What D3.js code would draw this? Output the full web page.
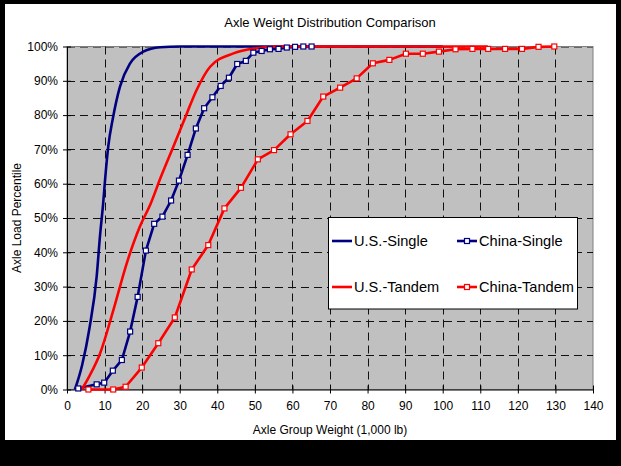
<!DOCTYPE html>
<html>
<head>
<meta charset="utf-8">
<script src="https://cdn.jsdelivr.net/npm/d3@7"></script>
<style>
  html, body { margin: 0; padding: 0; background: #000; }
  svg { display: block; font-family: "Liberation Sans", Arial, sans-serif; }
</style>
</head>
<body>
<svg id="chart" width="621" height="466"></svg>
<script>
// ---- Data (x in 1,000 lb, y in percentile %) ----
const xTicks = [0, 10, 20, 30, 40, 50, 60, 70, 80, 90, 100, 110, 120, 130, 140];
const yTicks = [0, 10, 20, 30, 40, 50, 60, 70, 80, 90, 100];

const usSingleX = [2.1, 4, 6, 7.9, 8.8, 9.6, 10.2, 11, 12.2, 14.1, 16.8, 20.3, 24.8, 30, 40, 100];
const usSingleY = [0, 7, 18, 33, 45, 54, 62, 71, 79, 88.3, 95.1, 98.5, 99.8, 100, 100, 100];

const usTandemX = [3.9, 6, 8.8, 12.3, 15.9, 19.4, 22.2, 25, 28.3, 31.9, 34.5, 38.1, 44.3, 50.5, 56, 112];
const usTandemY = [0, 4, 10.5, 23, 36.8, 47.5, 54, 62, 70.8, 80.5, 87.3, 94.1, 98, 99.5, 100, 100];

const chinaSingleX = [3.0, 7.9, 9.9, 12.2, 14.6, 16.8, 18.8, 21.0, 23.2, 25.4, 27.7, 29.8, 32.1, 34.3, 36.5, 38.7, 40.9, 43.1, 45.3, 47.6, 49.6, 51.8, 54.0, 56.3, 58.5, 60.7, 62.9, 65.1];
const chinaSingleY = [0.3, 1.5, 2, 5.5, 8.6, 16.9, 27, 40.5, 48.3, 50.4, 55.1, 60.9, 68.4, 76.1, 82, 85.2, 88.5, 90.9, 94.9, 95.8, 98.2, 98.7, 99.2, 99.3, 99.7, 99.9, 100, 100];

const chinaTandemX = [5.7, 12.3, 15.6, 19.9, 24.3, 28.7, 33.2, 37.6, 41.9, 46.3, 50.8, 55.1, 59.5, 64.0, 68.2, 72.7, 77.1, 81.4, 85.8, 90.2, 94.7, 99.0, 103.4, 107.9, 112.1, 116.6, 121.1, 125.5, 129.7];
const chinaTandemY = [0, 0, 0.8, 6.4, 13.5, 21, 35, 42.1, 52.8, 58.8, 67.1, 69.8, 74.4, 78.3, 85.4, 88, 90.7, 95.1, 96.1, 97.9, 97.9, 98.5, 99.2, 99.3, 99.3, 99.3, 99.3, 99.9, 100];

const seriesNames = ["U.S.-Single", "China-Single", "U.S.-Tandem", "China-Tandem"];

// ---- Layout ----
const svg = d3.select("#chart");
const W = 621, H = 466;
const plot = { left: 67, right: 593, top: 46.5, bottom: 389.5 };

// frame
svg.append("rect").attr("x", 0).attr("y", 0).attr("width", W).attr("height", H).attr("fill", "#000");
svg.append("rect").attr("x", 5).attr("y", 4).attr("width", 611).attr("height", 436).attr("fill", "#fff");

const x = d3.scaleLinear().domain([0, 140]).range([plot.left, plot.right]);
const y = d3.scaleLinear().domain([0, 100]).range([plot.bottom, plot.top]);

// plot area
svg.append("rect")
  .attr("x", plot.left).attr("y", plot.top)
  .attr("width", plot.right - plot.left).attr("height", plot.bottom - plot.top)
  .attr("fill", "#c0c0c0").attr("stroke", "#808080").attr("stroke-width", 1);

// gridlines
const grid = svg.append("g").attr("stroke", "#111").attr("stroke-width", 1).attr("stroke-dasharray", "8,5");
grid.selectAll("line.h").data(yTicks.filter(d => d > 0)).join("line")
  .attr("x1", plot.left).attr("x2", plot.right)
  .attr("y1", d => Math.round(y(d)) + 0.5).attr("y2", d => Math.round(y(d)) + 0.5)
  .attr("stroke", d => d === 100 ? "#666" : "#111");
grid.selectAll("line.v").data(xTicks.filter(d => d > 0 && d < 140)).join("line")
  .attr("y1", plot.top).attr("y2", plot.bottom)
  .attr("x1", d => Math.round(x(d)) + 0.5).attr("x2", d => Math.round(x(d)) + 0.5);

// axes
const xAxis = d3.axisBottom(x).tickValues(xTicks).tickSize(0).tickPadding(12).tickFormat(d3.format("d"));
const gx = svg.append("g").attr("transform", `translate(0,${plot.bottom})`).call(xAxis);
gx.select(".domain").attr("stroke", "#000");
gx.selectAll("text").attr("font-size", 12).attr("fill", "#000").attr("font-family", "Liberation Sans, Arial, sans-serif");
gx.selectAll(".tick").append("line").attr("y1", -4).attr("y2", 4).attr("stroke", "#000");

const yAxis = d3.axisLeft(y).tickValues(yTicks).tickSize(0).tickPadding(9).tickFormat(d => d + "%");
const gy = svg.append("g").attr("transform", `translate(${plot.left},0)`).call(yAxis);
gy.select(".domain").attr("stroke", "#000");
gy.selectAll("text").attr("font-size", 12).attr("fill", "#000").attr("font-family", "Liberation Sans, Arial, sans-serif");
gy.selectAll(".tick").append("line").attr("x1", -4).attr("x2", 4).attr("stroke", "#000");

const zip = (xs, ys) => xs.map((v, i) => [v, ys[i]]);
const smooth = d3.line().x(d => x(d[0])).y(d => y(d[1])).curve(d3.curveMonotoneX);
const straight = d3.line().x(d => x(d[0])).y(d => y(d[1]));

const series = svg.append("g");
function drawLine(data, color, gen) {
  series.append("path").attr("d", gen(data)).attr("fill", "none")
    .attr("stroke", color).attr("stroke-width", 2.6).attr("stroke-linejoin", "round");
}
function drawMarkers(data, color) {
  series.append("g").selectAll("rect").data(data).join("rect")
    .attr("x", d => x(d[0]) - 2.5).attr("y", d => y(d[1]) - 2.5)
    .attr("width", 5).attr("height", 5)
    .attr("fill", "#fff").attr("stroke", color).attr("stroke-width", 1.2);
}
const navy = "#000080", red = "#ff0000";
const usS = zip(usSingleX, usSingleY), chS = zip(chinaSingleX, chinaSingleY);
const usT = zip(usTandemX, usTandemY), chT = zip(chinaTandemX, chinaTandemY);
drawLine(usS, navy, smooth);
drawLine(chS, navy, straight);
drawLine(usT, red, smooth);
drawLine(chT, red, straight);
drawMarkers(chS, navy);
drawMarkers(chT, red);

// legend
const lg = svg.append("g");
lg.append("rect").attr("x", 328.5).attr("y", 217.5).attr("width", 249).attr("height", 91.5)
  .attr("fill", "#fff").attr("stroke", "#000").attr("stroke-width", 1);
const legendItems = [
  { name: seriesNames[0], color: navy, marker: false, lx: 332, ly: 241 },
  { name: seriesNames[1], color: navy, marker: true, lx: 457, ly: 241 },
  { name: seriesNames[2], color: red, marker: false, lx: 332, ly: 287 },
  { name: seriesNames[3], color: red, marker: true, lx: 457, ly: 287 }
];
legendItems.forEach(it => {
  lg.append("line").attr("x1", it.lx).attr("x2", it.lx + 20).attr("y1", it.ly).attr("y2", it.ly)
    .attr("stroke", it.color).attr("stroke-width", 2.6);
  if (it.marker) {
    lg.append("rect").attr("x", it.lx + 10 - 2.5).attr("y", it.ly - 2.5).attr("width", 5).attr("height", 5)
      .attr("fill", "#fff").attr("stroke", it.color).attr("stroke-width", 1.2);
  }
  lg.append("text").attr("x", it.lx + 22).attr("y", it.ly + 5).attr("font-size", 14.6).attr("fill", "#000")
    .text(it.name);
});

// titles
svg.append("text").attr("x", 330).attr("y", 27).attr("text-anchor", "middle")
  .attr("font-size", 13).attr("fill", "#000").text("Axle Weight Distribution Comparison");
svg.append("text").attr("x", 330).attr("y", 434).attr("text-anchor", "middle")
  .attr("font-size", 12).attr("fill", "#000").text("Axle Group Weight (1,000 lb)");
svg.append("text").attr("transform", "translate(21,218) rotate(-90)").attr("text-anchor", "middle")
  .attr("font-size", 12).attr("fill", "#000").text("Axle Load Percentile");
</script>
</body>
</html>
